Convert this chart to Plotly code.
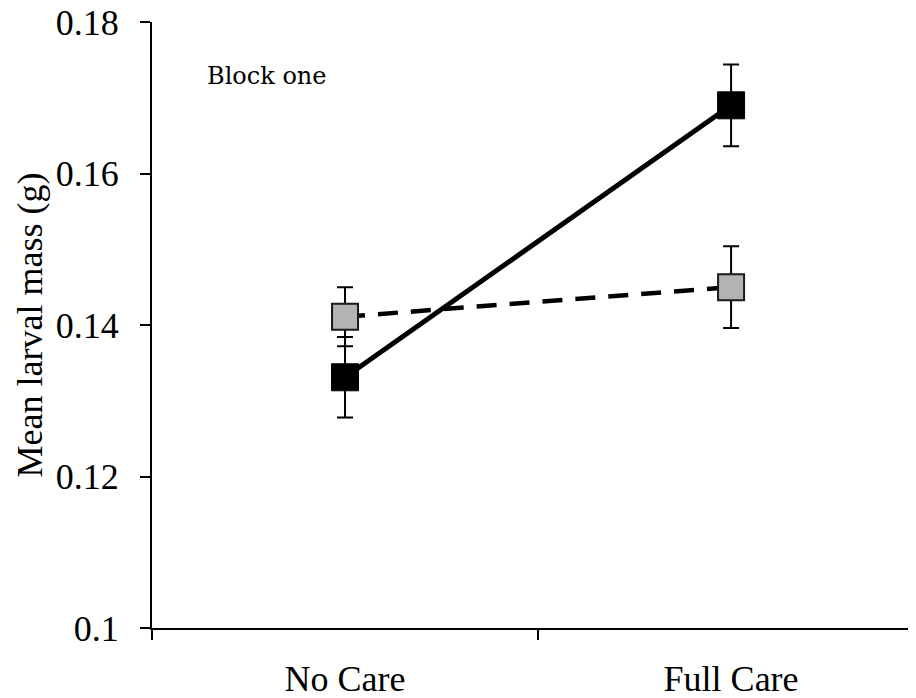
import plotly.graph_objects as go

categories = ["No Care", "Full Care"]
black_means = [0.1331, 0.1690]
black_err = [0.0053, 0.0054]
gray_means = [0.1411, 0.1450]
gray_err = [0.0039, 0.0054]
y_ticks = [0.1, 0.12, 0.14, 0.16, 0.18]
y_tick_labels = ["0.1", "0.12", "0.14", "0.16", "0.18"]
annotation_text = "Block one"
y_title = "Mean larval mass (g)"

SERIF = "Liberation Serif, Times New Roman, serif"

fig = go.Figure()

fig.add_trace(go.Scatter(
    x=categories, y=gray_means,
    mode="lines+markers",
    line=dict(color="black", width=4.5, dash="20px,13px"),
    marker=dict(symbol="square", size=26, color="#b3b3b3",
                line=dict(color="#1a1a1a", width=2)),
    error_y=dict(type="data", array=gray_err, visible=True,
                 color="black", thickness=2, width=8),
    showlegend=False,
))

fig.add_trace(go.Scatter(
    x=categories, y=black_means,
    mode="lines+markers",
    line=dict(color="black", width=5),
    marker=dict(symbol="square", size=27, color="black",
                line=dict(color="black", width=1)),
    error_y=dict(type="data", array=black_err, visible=True,
                 color="black", thickness=2, width=8),
    showlegend=False,
))

fig.add_annotation(
    x=0.069, y=0.911, xref="paper", yref="paper",
    text=annotation_text, showarrow=False,
    xanchor="left", yanchor="middle",
    font=dict(family="DejaVu Serif", size=24, color="black"),
)

fig.update_layout(
    width=908, height=690,
    margin=dict(l=144, r=0, t=14, b=70, autoexpand=False),
    paper_bgcolor="white", plot_bgcolor="white",
    font=dict(family=SERIF, color="black", size=36),
)

fig.update_xaxes(
    type="category",
    range=[-0.5, 1.479],
    tickson="boundaries",
    ticks="outside", ticklen=10, tickwidth=2, tickcolor="black",
    showline=True, linecolor="black", linewidth=2,
    showgrid=False, zeroline=False,
    tickfont=dict(family=SERIF, size=36),
    ticklabelstandoff=18,
    automargin=False,
)

fig.update_yaxes(
    range=[0.1, 0.18],
    tickmode="array",
    tickvals=y_ticks, ticktext=y_tick_labels,
    ticks="outside", ticklen=10, tickwidth=2, tickcolor="black",
    showline=True, linecolor="black", linewidth=2,
    showgrid=False, zeroline=False,
    tickfont=dict(family=SERIF, size=36),
    ticklabelstandoff=14,
    ticklabeloverflow="allow",
    automargin=False,
    title=dict(text=y_title, font=dict(family=SERIF, size=36), standoff=2),
)

fig.write_html("out.html")
